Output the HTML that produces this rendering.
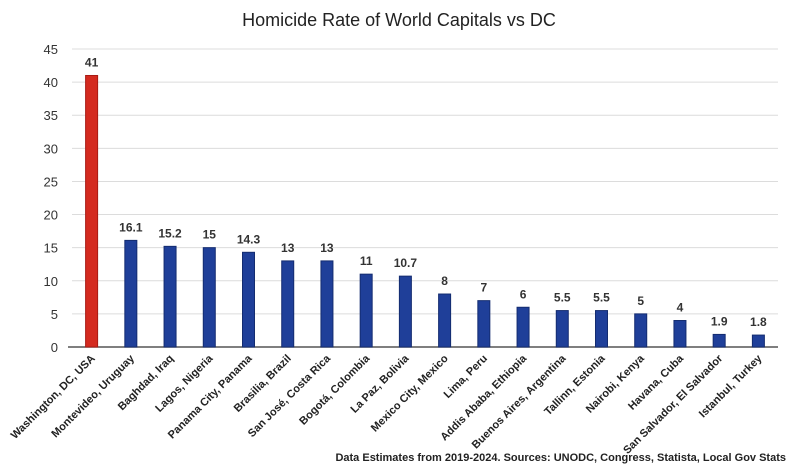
<!DOCTYPE html>
<html><head><meta charset="utf-8"><style>
body{margin:0;background:#fff;}
svg{display:block;font-family:"Liberation Sans",sans-serif;}
</style></head><body>
<svg id="chart" width="799" height="467" viewBox="0 0 799 467">
<rect width="799" height="467" fill="#fff"/>
<text x="399" y="26" text-anchor="middle" font-size="18" fill="#222">Homicide Rate of World Capitals vs DC</text>
<g id="grid"></g><g id="bars"></g><g id="labels"></g>
<text x="786" y="461" text-anchor="end" font-size="11" font-weight="bold" fill="#222">Data Estimates from 2019-2024. Sources: UNODC, Congress, Statista, Local Gov Stats</text>
</svg>
<script>
const categories=["Washington, DC, USA","Montevideo, Uruguay","Baghdad, Iraq","Lagos, Nigeria","Panama City, Panama","Brasilia, Brazil","San José, Costa Rica","Bogotá, Colombia","La Paz, Bolivia","Mexico City, Mexico","Lima, Peru","Addis Ababa, Ethiopia","Buenos Aires, Argentina","Tallinn, Estonia","Nairobi, Kenya","Havana, Cuba","San Salvador, El Salvador","Istanbul, Turkey"];
const values=[41,16.1,15.2,15,14.3,13,13,11,10.7,8,7,6,5.5,5.5,5,4,1.9,1.8];
const valueLabels=["41","16.1","15.2","15","14.3","13","13","11","10.7","8","7","6","5.5","5.5","5","4","1.9","1.8"];
const yTicks=[0,5,10,15,20,25,30,35,40,45];
const NS="http://www.w3.org/2000/svg";
const x0=72,x1=778,y0=347,yTop=49,yMax=45;
const band=(x1-x0)/categories.length;
const yS=v=>y0-(v/yMax)*(y0-yTop);
const xC=i=>x0+band*(i+0.5);
function mk(t,a,p){const e=document.createElementNS(NS,t);for(const k in a)e.setAttribute(k,a[k]);p.appendChild(e);return e;}
const grid=document.getElementById('grid'),bars=document.getElementById('bars'),labels=document.getElementById('labels');
yTicks.forEach(t=>{
 if(t>0){const l=mk('line',{x1:x0,x2:x1,y1:yS(t),y2:yS(t),stroke:'#dcdcdc','stroke-width':1},grid);
 
 }
 const tx=mk('text',{x:58,y:yS(t)+5,'text-anchor':'end','font-size':13,fill:'#333'},grid);
 tx.textContent=t;
 
 
});
const ax=mk('line',{x1:68,x2:x1,y1:y0,y2:y0,stroke:'#555','stroke-width':1.5},grid);


categories.forEach((c,i)=>{
 const cx=xC(i),w=12;
 const r=mk('rect',{x:cx-w/2,y:yS(values[i]),width:w,height:y0-yS(values[i]),fill:i===0?'#d42a1f':'#1f3f99',stroke:i===0?'#a81a14':'#142c70','stroke-width':1},bars);
 
 
 const v=mk('text',{x:cx,y:yS(values[i])-9,'text-anchor':'middle','font-size':12,'font-weight':'bold',fill:'#333'},labels);
 v.textContent=valueLabels[i];
 
 
 const lb=mk('text',{x:cx+4,y:y0+12,'text-anchor':'end','font-size':11,'font-weight':'bold',fill:'#222',transform:`rotate(-45 ${cx+4} ${y0+12})`},labels);
 lb.textContent=c;
 
 
});
</script>
</body></html>
